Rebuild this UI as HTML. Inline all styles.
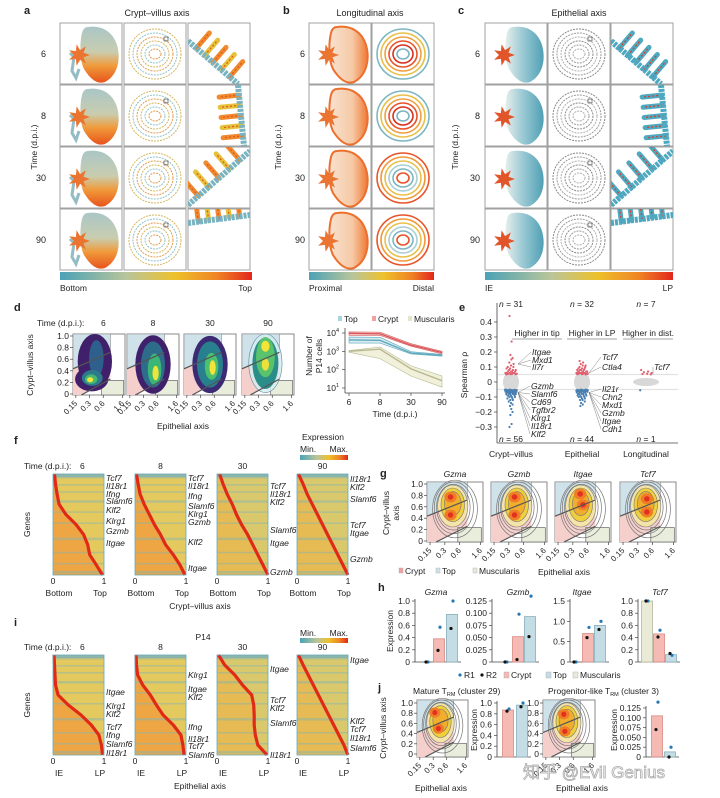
<!DOCTYPE html>
<html><head><meta charset="utf-8">
<style>
html,body{margin:0;padding:0;background:#fff;}
svg{display:block;font-family:"Liberation Sans","Noto Sans CJK SC",sans-serif;}
</style></head>
<body>
<svg id="fig" width="720" height="798" viewBox="0 0 720 798" xmlns="http://www.w3.org/2000/svg">
<defs>
<linearGradient id="cb" x1="0" x2="1" y1="0" y2="0">
<stop offset="0" stop-color="#4ba2b6"/><stop offset="0.35" stop-color="#b9c59a"/><stop offset="0.6" stop-color="#eec12a"/><stop offset="0.82" stop-color="#ef8424"/><stop offset="1" stop-color="#e2261c"/></linearGradient>
<linearGradient id="umA" x1="0" x2="0" y1="0" y2="1"><stop offset="0" stop-color="#a9c6c6"/><stop offset="0.45" stop-color="#c9cdb0"/><stop offset="0.7" stop-color="#f09a3a"/><stop offset="1" stop-color="#e8541c"/></linearGradient>
<linearGradient id="umB" x1="0" x2="1" y1="0" y2="0"><stop offset="0" stop-color="#f8e2d0"/><stop offset="0.6" stop-color="#f6c9a6"/><stop offset="1" stop-color="#ee7a36"/></linearGradient>
<linearGradient id="umC" x1="0" x2="1" y1="0" y2="0"><stop offset="0" stop-color="#e6eeec"/><stop offset="0.45" stop-color="#9ccad4"/><stop offset="1" stop-color="#4f9fb4"/></linearGradient>
</defs>
</svg>
<script>
// ---------- chart data ----------
const lineTimes=['6','8','30','90'];
const cryptMid=[9500,9000,2200,850];
const cryptLo=[7500,7500,1900,720];
const cryptHi=[11500,11000,2600,1000];
const topMid=[4200,4000,800,600];
const topLo=[2800,2800,720,540];
const topHi=[6000,5800,950,680];
const muscMid=[1000,1300,110,25];
const muscLo=[900,400,45,11];
const muscHi=[1100,1700,160,45];
const logTicks=[4,3,2,1];

const eTicks=[0.4,0.3,0.2,0.1,0,-0.1,-0.2,-0.3];
const eCats=['Crypt\u2013villus','Epithelial','Longitudinal'];
const cvUp=[0.44,0.27,0.18,0.16,0.15,0.13,0.12,0.11,0.1,0.1,0.09,0.09,0.08,0.08,0.08,0.07,0.07,0.07,0.07,0.06,0.06,0.06,0.06,0.06,0.055,0.055,0.055,0.053,0.052,0.052,0.051];
const cvDown=[-0.3,-0.28,-0.22,-0.2,-0.18,-0.16,-0.15,-0.14,-0.13,-0.12,-0.12,-0.11,-0.11,-0.1,-0.1,-0.1,-0.09,-0.09,-0.09,-0.09,-0.08,-0.08,-0.08,-0.08,-0.08,-0.08,-0.07,-0.07,-0.07,-0.07,-0.07,-0.07,-0.07,-0.065,-0.065,-0.065,-0.065,-0.06,-0.06,-0.06,-0.06,-0.06,-0.06,-0.058,-0.058,-0.056,-0.056,-0.055,-0.055,-0.054,-0.054,-0.053,-0.052,-0.052,-0.051,-0.051];
const epUp=[0.14,0.13,0.12,0.11,0.11,0.1,0.1,0.09,0.09,0.09,0.08,0.08,0.08,0.08,0.07,0.07,0.07,0.07,0.065,0.065,0.06,0.06,0.06,0.06,0.058,0.056,0.055,0.054,0.053,0.052,0.052,0.051];
const epDown=[-0.16,-0.15,-0.14,-0.13,-0.12,-0.12,-0.11,-0.11,-0.1,-0.1,-0.1,-0.09,-0.09,-0.09,-0.09,-0.08,-0.08,-0.08,-0.08,-0.08,-0.07,-0.07,-0.07,-0.07,-0.07,-0.065,-0.065,-0.065,-0.06,-0.06,-0.06,-0.06,-0.058,-0.058,-0.056,-0.056,-0.055,-0.055,-0.054,-0.053,-0.052,-0.052,-0.051,-0.051];
const lgUp=[0.08,0.07,0.065,0.06,0.055,0.053,0.051];
const lgDown=[-0.055];

const heatRows=[0,0.1,0.2,0.3,0.4,0.5,0.6,0.7,0.8,0.9,1];
const fPeak6=[0.03,0.05,0.08,0.12,0.25,0.45,0.6,0.68,0.72,0.85,0.97];
const fPeak8=[0.03,0.06,0.1,0.18,0.28,0.38,0.5,0.6,0.75,0.88,0.98];
const fPeak30=[0.05,0.12,0.2,0.3,0.38,0.48,0.6,0.7,0.8,0.9,1.0];
const fPeak90=[0.03,0.12,0.2,0.3,0.4,0.5,0.6,0.7,0.8,0.9,1.0];
const iPeak6=[0.02,0.03,0.04,0.05,0.1,0.3,0.55,0.75,0.9,0.95,0.97];
const iPeak8=[0.02,0.03,0.05,0.15,0.3,0.42,0.55,0.75,0.9,0.94,0.96];
const iPeak30=[0.03,0.15,0.35,0.5,0.68,0.72,0.73,0.73,0.75,0.8,0.98];
const iPeak90=[0.03,0.12,0.22,0.32,0.42,0.52,0.62,0.72,0.82,0.92,1.0];

const hGenes=['Gzma','Gzmb','Itgae','Tcf7'];
const hMax=[1.0,0.125,1.5,1.0];
const hTickVals=[[0,0.2,0.4,0.6,0.8,1.0],[0,0.025,0.05,0.075,0.1,0.125],[0,0.5,1.0,1.5],[0,0.2,0.4,0.6,0.8,1.0]];
const hTickLabels=[['0','0.2','0.4','0.6','0.8','1.0'],['0','0.025','0.050','0.075','0.100','0.125'],['0','0.5','1.0','1.5'],['0','0.2','0.4','0.6','0.8','1.0']];
const hBarMusc=[0,0,0,1.0];
const hBarCrypt=[0.38,0.052,0.7,0.46];
const hBarTop=[0.78,0.093,0.9,0.12];
const hR1=[[0,0.57,1.0],[0,0.098,0.135],[0,0.85,1.0],[1.0,0.52,0.11]];
const hR2=[[0,0.19,0.55],[0,0.005,0.052],[0,0.6,0.8],[1.0,0.41,0.14]];

const jMax=[1.0,0.125];
const jTickVals=[[0,0.2,0.4,0.6,0.8,1.0],[0,0.025,0.05,0.075,0.1,0.125]];
const jTickLabels=[['0','0.2','0.4','0.6','0.8','1.0'],['0','0.025','0.050','0.075','0.100','0.125']];
const jBarCrypt=[0.87,0.105];
const jBarTop=[0.96,0.013];
const jR1=[[0.89,1.0],[0.14,0.025]];
const jR2=[[0.85,0.93],[0.07,0.0]];

const cvTicks=['0','0.2','0.4','0.6','0.8','1.0'];
const cvTickVals=[0,0.2,0.4,0.6,0.8,1.0];
const epiTicks=['0.15','0.3','0.6','1.6'];
const epiTickVals=[0.15,0.3,0.6,1.6];

// ---------- helpers ----------
const NS='http://www.w3.org/2000/svg';
const svg=document.getElementById('fig');
function add(p,tag,at,name){
  const el=document.createElementNS(NS,tag);
  for(const k in at) el.setAttribute(k,at[k]);
  
  
  p.appendChild(el);return el;
}
function txt(p,x,y,s,o,name){
  o=o||{};
  const at={x:x,y:y,'font-size':o.fs||8.5,'text-anchor':o.a||'start',fill:o.fill||'#222'};
  if(o.it) at['font-style']='italic';
  if(o.b) at['font-weight']='bold';
  if(o.rot!==undefined) at.transform='rotate('+o.rot+' '+x+' '+y+')';
  const t=add(p,'text',at,name);t.textContent=s;return t;
}
function grp(name){return add(svg,'g',{},name);}
function pts(a){return a.map(p=>p[0].toFixed(1)+','+p[1].toFixed(1)).join(' ');}

// ---------- panels a,b,c ----------
const rowY=[23,85,147,209], tileH=61, tileW=62;
const rowLbl=['6','8','30','90'];
const bands=[[0,18,50,61],[50,0,56,61],[0,58,62,4],[0,14,62,6]];
function umap(g,x,y,s){
  const fill=s==='a'?'url(#umA)':s==='b'?'url(#umB)':'url(#umC)';
  add(g,'path',{d:`M${x+28} ${y+4} C${x+42} ${y+2} ${x+53} ${y+9} ${x+57} ${y+22} C${x+61} ${y+36} ${x+58} ${y+52} ${x+45} ${y+59} C${x+36} ${y+62} ${x+29} ${y+54} ${x+24} ${y+46} C${x+19} ${y+36} ${x+20} ${y+18} ${x+22} ${y+10} C${x+23} ${y+6} ${x+25} ${y+4} ${x+28} ${y+4} Z`,fill:fill,stroke:s==='b'?'#ec6f2c':'none','stroke-width':2},'umap-body');
  if(s==='a') add(g,'path',{d:`M${x+10} ${y+30} L${x+14} ${y+34} L${x+12} ${y+48} L${x+16} ${y+55} L${x+19} ${y+46}`,fill:'none',stroke:'#94bcc4','stroke-width':3},'umap-stem');
  const c=[];for(let k=0;k<14;k++){const r=k%2?5:11;const an=k/14*Math.PI*2;c.push([x+19+Math.cos(an)*r,y+32+Math.sin(an)*r]);}
  add(g,'polygon',{points:pts(c),fill:s==='c'?'#e2542a':'#ea7430'},'umap-cluster');
}
function swirl(g,x,y,s,r){
  const cols=s==='a'?['#d5b65e','#8fc1c9','#e49a4a']:s==='c'?['#8a8a8a','#9a9a9a','#b0b0b0']:
    (r<2?['#7cb6c2','#e8c04a','#f0a040','#e8522a','#d8301e']:['#e8542a','#f09a3a','#e8c04a','#a8cfd6','#7cb6c2']);
  for(let k=0;k<6;k++){
    add(g,'ellipse',{cx:x+31,cy:y+31,rx:26-k*4,ry:25-k*4,fill:'none',stroke:cols[k%cols.length],'stroke-width':s==='b'?1.6:1,'stroke-dasharray':s==='b'?'none':'2 1'},'swirl-ring');
  }
  if(s!=='b') add(g,'rect',{x:x+40,y:y+14,width:4,height:4,fill:'none',stroke:'#333','stroke-width':0.6},'zoom-box');
}
function villi(g,x,y,s,r){
  const b=bands[r];
  const x1=x+b[0],y1=y+b[1],x2=x+b[2],y2=y+b[3];
  const dx=x2-x1,dy=y2-y1,L=Math.hypot(dx,dy),nx=-dy/L,ny=dx/L;
  const sgn=(r===1)?1:-1;
  for(let k=1;k<6;k++){
    const px=x1+dx*k/6,py=y1+dy*k/6;
    const ex=px+nx*20*sgn,ey=py+ny*20*sgn;
    add(g,'line',{x1:px,y1:py,x2:ex,y2:ey,stroke:s==='a'?(k%2?'#ef8a2e':'#e6c23a'):'#4ea8c0','stroke-width':5,'stroke-linecap':'round'},'villus');
    add(g,'line',{x1:px,y1:py,x2:ex,y2:ey,stroke:s==='a'?'#e2561e':'#e23a22','stroke-width':1.2,'stroke-dasharray':'2 2'},'villus-core');
  }
  add(g,'line',{x1:x1,y1:y1,x2:x2,y2:y2,stroke:s==='a'?'#79b3c0':'#4ea8c0','stroke-width':6,'stroke-dasharray':'3 1'},'epithelium-band');
}
function tilePanel(letter,title,titleX,cols,types,labX,timeX,cbLeft,cbRight,cbL,cbR){
  const g=grp('panel-'+letter);
  txt(g,labX-10,14,letter,{fs:11,b:true},'panel-label-'+letter);
  txt(g,titleX,16,title,{fs:9,a:'middle'},'panel-title-'+letter);
  txt(g,timeX,147,'Time (d.p.i.)',{fs:8.5,a:'middle',rot:-90},'y-axis-title');
  rowY.forEach((ry,r)=>{
    txt(g,labX+12,ry+34,rowLbl[r],{fs:9,a:'end'},'row-label');
    cols.forEach((cx,ci)=>{
      const tg=add(g,'g',{},'tile');
      add(tg,'rect',{x:cx,y:ry,width:tileW,height:tileH,fill:'#fff',stroke:'#a0a0a0','stroke-width':1},'tile-frame');
      const cp=add(tg,'clipPath',{id:'cp'+letter+r+ci},'tile-clip');
      add(cp,'rect',{x:cx,y:ry,width:tileW,height:tileH},'clip-rect');
      const ig=add(tg,'g',{'clip-path':'url(#cp'+letter+r+ci+')'},'tile-image');
      if(types[ci]==='u') umap(ig,cx,ry,letter);
      else if(types[ci]==='s') swirl(ig,cx,ry,letter,r);
      else villi(ig,cx,ry,letter,r);
    });
  });
  add(g,'rect',{x:cbLeft,y:272,width:cbRight-cbLeft,height:8,fill:'url(#cb)'},'colorbar');
  txt(g,cbLeft,291,cbL,{fs:8.5},'colorbar-min-label');
  txt(g,cbRight,291,cbR,{fs:8.5,a:'end'},'colorbar-max-label');
}
tilePanel('a','Crypt\u2013villus axis',157,[60,124,188],['u','s','v'],34,37,60,252,'Bottom','Top');
tilePanel('b','Longitudinal axis',370,[309,372],['u','s'],293,281,309,434,'Proximal','Distal');
tilePanel('c','Epithelial axis',579,[485,548,611],['u','s','v'],468,458,485,673,'IE','LP');

// ---------- region box helper (d, g, j) ----------
function epiX(v,bx,w){const lo=Math.log(0.13),hi=Math.log(1.8);return bx+(Math.log(v)-lo)/(hi-lo)*w;}
function regionBox(g,bx,by,w,h){
  const P=(fx,fy)=>[bx+fx*w,by+h-fy*h];
  add(g,'rect',{x:bx,y:by,width:w,height:h,fill:'#fff',stroke:'#888','stroke-width':1},'plot-frame');
  add(g,'polygon',{points:pts([P(0,1),P(0.72,1),P(0.72,0.7),P(0,0.43)]),fill:'#cfe2ea',stroke:'#888','stroke-width':0.6},'top-region');
  add(g,'polygon',{points:pts([P(0,0.43),P(0.72,0.7),P(0.72,0.26),P(0.16,0),P(0,0)]),fill:'#f5cfcb'},'crypt-region');
  add(g,'rect',{x:bx+0.55*w,y:by+h-0.24*h,width:0.42*w,height:0.24*h,fill:'#e8eddc',stroke:'#666','stroke-width':0.7},'muscularis-region');
}
function regionLines(g,bx,by,w,h){
  const P=(fx,fy)=>[bx+fx*w,by+h-fy*h];
  add(g,'polyline',{points:pts([P(0,0.43),P(0.72,0.7)]),stroke:'#555','stroke-width':1.2,fill:'none'},'boundary-line');
  add(g,'polyline',{points:pts([P(0.16,0),P(0.72,0.26)]),stroke:'#555','stroke-width':1.2,fill:'none'},'boundary-line');
}
function blobs(g,bx,by,w,h,list,name){
  list.forEach(e=>{add(g,'ellipse',{cx:bx+e[0]*w,cy:by+h-e[1]*h,rx:e[2]*w,ry:e[3]*h,fill:e[4],stroke:e[5]||'none','stroke-width':0.6,'fill-opacity':e[6]===undefined?1:e[6]},name);});
}
function yTicks(g,x,yf,vals,labels){
  vals.forEach((v,i)=>{txt(g,x,yf(v)+3,labels[i],{fs:8.5,a:'end'},'y-tick-label');add(g,'line',{x1:x+1,x2:x+4,y1:yf(v),y2:yf(v),stroke:'#444','stroke-width':0.7},'y-tick');});
}
function xEpiTicks(g,bx,by,w){
  epiTickVals.forEach((v,i)=>{const x=epiX(v,bx,w);add(g,'line',{x1:x,x2:x,y1:by,y2:by+3,stroke:'#444','stroke-width':0.7},'x-tick');
    txt(g,x+2,by+9,epiTicks[i],{fs:8,a:'end',rot:-45},'x-tick-label');});
}

// ---------- panel d ----------
(function(){
  const g=grp('panel-d');
  txt(g,14,311,'d',{fs:11,b:true},'panel-label-d');
  txt(g,37,326,'Time (d.p.i.):',{fs:8.5},'time-label');
  const bxs=[73,127,184,242],bw=52,by=334,bh=61;
  const dBlobs=[
    [[0.42,0.55,0.33,0.45,'#40206a'],[0.36,0.26,0.32,0.2,'#40206a'],[0.45,0.6,0.14,0.3,'#2f5f8c'],[0.37,0.28,0.2,0.13,'#2c7a8c'],[0.35,0.26,0.12,0.08,'#46b874'],[0.33,0.25,0.06,0.04,'#f3e53a']],
    [[0.5,0.5,0.34,0.48,'#40206a'],[0.5,0.5,0.23,0.38,'#2e6c8c'],[0.53,0.42,0.13,0.26,'#3cb674'],[0.55,0.36,0.06,0.12,'#efe43c']],
    [[0.5,0.5,0.34,0.47,'#3d2a74'],[0.5,0.5,0.25,0.38,'#287f8e'],[0.53,0.47,0.13,0.22,'#4cc16d'],[0.55,0.45,0.06,0.12,'#f4e33b']],
    [[0.45,0.52,0.32,0.48,'#d6ecef','#5a8aa0',0.8],[0.45,0.52,0.25,0.42,'#2b8d8a'],[0.45,0.62,0.18,0.33,'#58c26c'],[0.45,0.8,0.08,0.09,'#f3e43a'],[0.45,0.5,0.07,0.1,'#eee03a']]];
  bxs.forEach((bx,k)=>{
    const pg=add(g,'g',{},'density-plot');
    regionBox(pg,bx,by,bw,bh);
    blobs(pg,bx,by,bw,bh,dBlobs[k],'density-level');
    regionLines(pg,bx,by,bw,bh);
    txt(g,k===0?101:bx+bw/2,326,lineTimes[k],{fs:8.5,a:k===0?'start':'middle'},'time-value');
    xEpiTicks(g,bx,by+bh,bw);
  });
  yTicks(g,69,v=>394-v*58,cvTickVals,cvTicks);
  txt(g,33,365,'Crypt\u2013villus axis',{fs:8.5,a:'middle',rot:-90},'y-axis-title');
  txt(g,183,429,'Epithelial axis',{fs:8.5,a:'middle'},'x-axis-title');
  // line chart
  const lg=grp('line-chart');
  const xs=i=>349+i*31;
  const ys=v=>333+(4-Math.log10(v))*(55/3);
  add(lg,'line',{x1:345,x2:345,y1:328,y2:393,stroke:'#444','stroke-width':0.8},'y-axis-line');
  add(lg,'line',{x1:345,x2:445,y1:393,y2:393,stroke:'#444','stroke-width':0.8},'x-axis-line');
  logTicks.forEach(e=>{const y=ys(Math.pow(10,e));add(lg,'line',{x1:342,x2:345,y1:y,y2:y,stroke:'#444','stroke-width':0.7},'y-tick');
    const t=txt(lg,339,y+3,'10',{fs:8.5,a:'end'},'y-tick-label');const sp=add(t,'tspan',{'font-size':5.5,dy:-4},'tick-exponent');sp.textContent=String(e);});
  lineTimes.forEach((s,i)=>{add(lg,'line',{x1:xs(i),x2:xs(i),y1:393,y2:396,stroke:'#444','stroke-width':0.7},'x-tick');txt(lg,xs(i),405,s,{fs:8.5,a:'middle'},'x-tick-label');});
  txt(lg,395,417,'Time (d.p.i.)',{fs:8.5,a:'middle'},'x-axis-title');
  txt(lg,312,356,'Number of',{fs:8.5,a:'middle',rot:-90},'y-axis-title');
  txt(lg,322,356,'P14 cells',{fs:8.5,a:'middle',rot:-90},'y-axis-title');
  function series(lo,hi,mid,fill,stroke,name){
    const up=lo.map((v,i)=>[xs(i),ys(hi[i])]),dn=lo.map((v,i)=>[xs(i),ys(v)]).reverse();
    add(lg,'polygon',{points:pts(up.concat(dn)),fill:fill,'fill-opacity':0.45,stroke:stroke,'stroke-width':0.6},name+'-band');
    add(lg,'polyline',{points:pts(mid.map((v,i)=>[xs(i),ys(v)])),fill:'none',stroke:stroke,'stroke-width':1.4},name+'-line');
  }
  series(muscLo,muscHi,muscMid,'#dfe0b0','#b8b890','muscularis');
  series(topLo,topHi,topMid,'#a8d4de','#5fa9bd','top');
  series(cryptLo,cryptHi,cryptMid,'#f2a8a4','#d8575a','crypt');
  [['Top','#a8d4de',338],['Crypt','#f2a0a0',372],['Muscularis','#e4e4c8',408]].forEach(l=>{
    add(lg,'rect',{x:l[2],y:316,width:4,height:5,fill:l[1]},'legend-swatch');
    txt(lg,l[2]+6,322,l[0],{fs:8.5},'legend-entry');});
})();

// ---------- panel e ----------
(function(){
  const g=grp('panel-e');
  txt(g,459,311,'e',{fs:11,b:true},'panel-label-e');
  const ys=v=>382-v*150;
  const cx=[511,582,646];
  add(g,'line',{x1:497,x2:678,y1:ys(0.05),y2:ys(0.05),stroke:'#e2e2e2','stroke-width':1.2},'threshold-line');
  add(g,'line',{x1:497,x2:678,y1:ys(-0.05),y2:ys(-0.05),stroke:'#e2e2e2','stroke-width':1.2},'threshold-line');
  add(g,'line',{x1:497,x2:497,y1:303,y2:443,stroke:'#444','stroke-width':0.8},'y-axis-line');
  add(g,'line',{x1:497,x2:678,y1:443,y2:443,stroke:'#444','stroke-width':0.8},'x-axis-line');
  eTicks.forEach(v=>{add(g,'line',{x1:494,x2:497,y1:ys(v),y2:ys(v),stroke:'#444','stroke-width':0.7},'y-tick');
    txt(g,492,ys(v)+3,v===0?'0':(v<0?'\u2212'+Math.abs(v).toFixed(1):v.toFixed(1)),{fs:8.5,a:'end'},'y-tick-label');});
  txt(g,467,375,'Spearman \u03c1',{fs:8.5,a:'middle',rot:-90},'y-axis-title');
  eCats.forEach((s,i)=>txt(g,cx[i],457,s,{fs:8.5,a:'middle'},'x-category-label'));
  [[cx[0],8,0.06],[cx[1],8,0.06],[cx[2],13,0.02]].forEach(s=>{
    add(g,'ellipse',{cx:s[0],cy:ys(0),rx:s[1],ry:s[2]*150+1,fill:'#d8d8d8'},'nonsignificant-swarm');});
  function dots(arr,x,col,name){arr.forEach((v,i)=>{const spread=Math.max(1.5,8-Math.abs(v)*40);const off=(((i*7)%11)-5)/5*spread;
    add(g,'circle',{cx:x+off,cy:ys(v),r:1.1,fill:col},name);});}
  dots(cvUp,cx[0],'#e06070','upregulated-gene');dots(cvDown,cx[0],'#4a7fb0','downregulated-gene');
  dots(epUp,cx[1],'#e06070','upregulated-gene');dots(epDown,cx[1],'#4a7fb0','downregulated-gene');
  dots(lgUp,cx[2],'#e06070','upregulated-gene');dots(lgDown,cx[2],'#4a7fb0','downregulated-gene');
  [['n = 31',cx[0],307],['n = 32',cx[1],307],['n = 7',cx[2],307],['n = 56',cx[0],442],['n = 44',cx[1],442],['n = 1',cx[2],442]].forEach(n=>{
    const t=txt(g,n[1],n[2],'',{fs:8.5,a:'middle'},'n-label');const a=add(t,'tspan',{'font-style':'italic'},'n-symbol');a.textContent='n';const b=add(t,'tspan',{},'n-value');b.textContent=n[0].slice(1);});
  [['Higher in tip',537],['Higher in LP',592],['Higher in dist.',648]].forEach(h=>{
    txt(g,h[1],336,h[0],{fs:8.5,a:'middle'},'direction-label');
    add(g,'line',{x1:h[1]-25,x2:h[1]+25,y1:339,y2:339,stroke:'#888','stroke-width':0.8},'direction-underline');});
  function glab(list,x,sx,sy){list.forEach(l=>{txt(g,x,l[1]+3,l[0],{fs:8.5,it:true},'gene-label');
    add(g,'line',{x1:sx,y1:sy,x2:x-1,y2:l[1],stroke:'#666','stroke-width':0.4},'gene-leader-line');});}
  glab([['Itgae',352],['Mxd1',360],['Il7r',367]],532,cx[0]+7,ys(0.12));
  glab([['Gzmb',386],['Slamf6',394],['Cd69',402],['Tgfbr2',410],['Klrg1',418],['Il18r1',426],['Klf2',434]],531,cx[0]+7,ys(-0.07));
  glab([['Tcf7',357],['Ctla4',367]],602,cx[1]+7,ys(0.06));
  glab([['Il21r',389],['Chn2',397],['Mxd1',405],['Gzmb',413],['Itgae',421],['Cdh1',429]],602,cx[1]+7,ys(-0.07));
  glab([['Tcf7',367]],654,cx[2]+7,ys(0.05));
})();

// ---------- heatmaps f, i ----------
const hmX=[53,135,217,297],hmW=51;
function heatmap(g,x,y,h,peaks,early,name){
  add(g,'rect',{x:x,y:y,width:hmW,height:h,fill:early?'#e4c95e':'#d9c86c'},name+'-base');
  const left=[[x,y]].concat(heatRows.map((r,i)=>[x+peaks[i]*hmW,y+r*h])).concat([[x,y+h]]);
  add(g,'polygon',{points:pts(left),fill:early?'#f0a040':'#ebb548','fill-opacity':early?0.85:0.7},name+'-low-region');
  [0.02,0.1,0.17,0.26,0.37,0.48,0.63,0.77,0.88,0.96].forEach((f,k)=>{
    add(g,'rect',{x:x,y:y+f*h,width:hmW,height:k%3?1.5:2.5,fill:'#7fb4b8','fill-opacity':0.45},'heatmap-row-stripe');});
  add(g,'rect',{x:x,y:y,width:hmW,height:3,fill:'#79b1bc','fill-opacity':0.8},'heatmap-top-row');
  add(g,'polyline',{points:pts(heatRows.map((r,i)=>[x+peaks[i]*hmW,y+r*h])),fill:'none',stroke:'#e02a18','stroke-width':3.2,'stroke-linejoin':'round'},name+'-peak-line');
  add(g,'rect',{x:x,y:y,width:hmW,height:h,fill:'none',stroke:'#6aa9b8','stroke-width':0.8},name+'-frame');
}
function heatPanel(letter,y0,h,peaksList,labels,leftLbl,rightLbl,axisTitle,timeY,labelY,early){
  const g=grp('panel-'+letter);
  txt(g,14,labelY,letter,{fs:11,b:true},'panel-label-'+letter);
  txt(g,24,timeY,'Time (d.p.i.):',{fs:8.5},'time-label');
  txt(g,30,y0+h/2,'Genes',{fs:8.5,a:'middle',rot:-90},'y-axis-title');
  hmX.forEach((x,k)=>{
    txt(g,k===0?80:x+hmW/2,timeY,lineTimes[k],{fs:8.5,a:k===0?'start':'middle'},'time-value');
    heatmap(g,x,y0,h,peaksList[k],early[k],'heatmap');
    labels[k].forEach(l=>txt(g,x+hmW+2,l[1]+3,l[0],{fs:8.5,it:true},'gene-label'));
    txt(g,x,y0+h+9,'0',{fs:8.5,a:'middle'},'x-tick-label');
    txt(g,x+hmW,y0+h+9,'1',{fs:8.5,a:'middle'},'x-tick-label');
    txt(g,x+6,y0+h+21,leftLbl,{fs:8.5,a:'middle'},'x-end-label');
    txt(g,x+hmW-4,y0+h+21,rightLbl,{fs:8.5,a:'middle'},'x-end-label');
  });
  txt(g,200,y0+h+34,axisTitle,{fs:8.5,a:'middle'},'x-axis-title');
}
heatPanel('f',474,101,[fPeak6,fPeak8,fPeak30,fPeak90],[
  [['Tcf7',478],['Il18r1',486],['Ifng',494],['Slamf6',501],['Klf2',510],['Klrg1',521],['Gzmb',531],['Itgae',543]],
  [['Tcf7',478],['Il18r1',486],['Ifng',496],['Slamf6',506],['Klrg1',514],['Gzmb',522],['Klf2',542],['Itgae',568]],
  [['Tcf7',486],['Il18r1',494],['Klf2',502],['Slamf6',530],['Itgae',543],['Gzmb',572]],
  [['Il18r1',479],['Klf2',487],['Slamf6',499],['Tcf7',525],['Itgae',533],['Gzmb',559]]],'Bottom','Top','Crypt\u2013villus axis',469,444,[true,true,false,false]);
heatPanel('i',655,100,[iPeak6,iPeak8,iPeak30,iPeak90],[
  [['Itgae',692],['Klrg1',706],['Klf2',714],['Tcf7',727],['Ifng',735],['Slamf6',744],['Il18r1',753]],
  [['Klrg1',675],['Itgae',689],['Klf2',697],['Ifng',727],['Il18r1',739],['Tcf7',746],['Slamf6',755]],
  [['Itgae',669],['Tcf7',700],['Klf2',708],['Slamf6',723],['Il18r1',755]],
  [['Itgae',660],['Klf2',721],['Tcf7',729],['Il18r1',738],['Slamf6',748]]],'IE','LP','Epithelial axis',650,626,[true,true,false,false]);
(function(){
  const g=grp('expression-legends');
  txt(g,323,440,'Expression',{fs:8.5,a:'middle'},'colorbar-title');
  txt(g,300,452,'Min.',{fs:8.5},'colorbar-min-label');txt(g,348,452,'Max.',{fs:8.5,a:'end'},'colorbar-max-label');
  add(g,'rect',{x:300,y:455,width:48,height:5,fill:'url(#cb)'},'colorbar');
  txt(g,203,640,'P14',{fs:8.5,a:'middle'},'heatmap-subtitle');
  txt(g,300,636,'Min.',{fs:8.5},'colorbar-min-label');txt(g,348,636,'Max.',{fs:8.5,a:'end'},'colorbar-max-label');
  add(g,'rect',{x:300,y:638,width:48,height:5,fill:'url(#cb)'},'colorbar');
})();

// ---------- contour helper ----------
function contour(g,bx,by,w,h,cores){
  regionBox(g,bx,by,w,h);
  [[0.5,0.55,0.4,0.48],[0.48,0.57,0.35,0.43],[0.47,0.58,0.3,0.38]].forEach(r=>
    add(g,'ellipse',{cx:bx+r[0]*w,cy:by+h-r[1]*h,rx:r[2]*w,ry:r[3]*h,fill:'none',stroke:'#777','stroke-width':0.7},'density-contour'));
  blobs(g,bx,by,w,h,[[0.46,0.6,0.27,0.35,'#f4e4a8','#777'],[0.46,0.62,0.21,0.28,'#efcf3e','#777'],[0.46,0.64,0.15,0.2,'#f0ad2e','#777']],'density-level');
  cores.forEach(c=>blobs(g,bx,by,w,h,[[c[0],c[1],0.11,0.09,'#ef7d28'],[c[0],c[1],0.05,0.045,'#e2321f']],'density-peak'));
  regionLines(g,bx,by,w,h);
}

// ---------- panel g ----------
(function(){
  const g=grp('panel-g');
  txt(g,380,477,'g',{fs:11,b:true},'panel-label-g');
  const gx=[427,491,555,620],gw=56,gy=482,gh=60;
  const cores=[[[0.42,0.75],[0.42,0.45]],[[0.42,0.75],[0.42,0.45]],[[0.45,0.8],[0.5,0.62]],[[0.48,0.72],[0.48,0.5]]];
  gx.forEach((x,k)=>{txt(g,x+gw/2,477,hGenes[k],{fs:8.5,a:'middle',it:true},'gene-title');
    const pg=add(g,'g',{},'contour-plot');contour(pg,x,gy,gw,gh,cores[k]);xEpiTicks(g,x,gy+gh,gw);});
  yTicks(g,423,v=>541-57*v,cvTickVals,cvTicks);
  txt(g,389,513,'Crypt\u2013villus',{fs:8.5,a:'middle',rot:-90},'y-axis-title');
  txt(g,399,513,'axis',{fs:8.5,a:'middle',rot:-90},'y-axis-title');
  [['Crypt','#f0a0a0',405],['Top','#cfe2ea',442],['Muscularis','#e6e8d8',479]].forEach(l=>{
    add(g,'rect',{x:l[2]-6,y:568,width:4,height:5,fill:l[1],stroke:'#aaa','stroke-width':0.4},'legend-swatch');
    txt(g,l[2],574,l[0],{fs:8.5},'legend-entry');});
  txt(g,564,575,'Epithelial axis',{fs:8.5,a:'middle'},'x-axis-title');
})();

// ---------- bar helper ----------
function barPlot(g,axX,yBase,yTop,max,vals,labels,centers,bars,r1,r2,cols){
  const ys=v=>yBase-v/max*(yBase-yTop);
  add(g,'line',{x1:axX,x2:axX,y1:ys(vals[vals.length-1])-2,y2:yBase,stroke:'#444','stroke-width':0.8},'y-axis-line');
  add(g,'line',{x1:axX,x2:centers[centers.length-1]+9,y1:yBase,y2:yBase,stroke:'#444','stroke-width':0.8},'x-axis-line');
  vals.forEach((v,i)=>{add(g,'line',{x1:axX-3,x2:axX,y1:ys(v),y2:ys(v),stroke:'#444','stroke-width':0.7},'y-tick');txt(g,axX-5,ys(v)+3,labels[i],{fs:8.5,a:'end'},'y-tick-label');});
  bars.forEach((v,i)=>{if(v>0) add(g,'rect',{x:centers[i]-5.5,y:ys(v),width:11,height:yBase-ys(v),fill:cols[i][0],stroke:cols[i][1],'stroke-width':0.8},'bar');});
  r1.forEach((v,i)=>add(g,'circle',{cx:centers[i]+1,cy:ys(v),r:1.6,fill:'#2679b4'},'replicate-r1-point'));
  r2.forEach((v,i)=>add(g,'circle',{cx:centers[i]-1,cy:ys(v),r:1.6,fill:'#111'},'replicate-r2-point'));
}
const cMusc=['#e9ebd6','#b7b89c'],cCrypt=['#f4bab3','#d98a84'],cTop=['#c4dde4','#86aebb'];

// ---------- panel h ----------
(function(){
  const g=grp('panel-h');
  txt(g,378,591,'h',{fs:11,b:true},'panel-label-h');
  const axX=[415,492,570,638];
  const cent=[[427,439,452],[506,518,530],[575,588,600],[647,659,671]];
  const tx=[436,518,582,660];
  hGenes.forEach((gname,k)=>{
    txt(g,tx[k],595,gname,{fs:8.5,a:'middle',it:true},'gene-title');
    const pg=add(g,'g',{},'bar-plot-'+gname.toLowerCase());
    barPlot(pg,axX[k],662,601,hMax[k],hTickVals[k],hTickLabels[k],cent[k],[hBarMusc[k],hBarCrypt[k],hBarTop[k]],hR1[k],hR2[k],[cMusc,cCrypt,cTop]);
  });
  txt(g,393,631,'Expression',{fs:8.5,a:'middle',rot:-90},'y-axis-title');
  add(g,'circle',{cx:460,cy:675,r:1.6,fill:'#2679b4'},'legend-r1-marker');txt(g,464,678,'R1',{fs:8.5},'legend-entry');
  add(g,'circle',{cx:482,cy:675,r:1.6,fill:'#111'},'legend-r2-marker');txt(g,486,678,'R2',{fs:8.5},'legend-entry');
  [['Crypt','#f4bab3',504],['Top','#c4dde4',546],['Muscularis','#e9ebd6',573]].forEach(l=>{
    add(g,'rect',{x:l[2],y:672,width:5,height:6,fill:l[1],stroke:'#aaa','stroke-width':0.4},'legend-swatch');
    txt(g,l[2]+7,678,l[0],{fs:8.5},'legend-entry');});
})();

// ---------- panel j ----------
(function(){
  const g=grp('panel-j');
  txt(g,378,691,'j',{fs:11,b:true},'panel-label-j');
  const t1=txt(g,413,694,'Mature T',{fs:8.5},'cluster-title');const s1=add(t1,'tspan',{'font-size':5.5,dy:2},'subscript');s1.textContent='RM';const r1=add(t1,'tspan',{dy:-2},'title-rest');r1.textContent=' (cluster 29)';
  const t2=txt(g,548,694,'Progenitor-like T',{fs:8.5},'cluster-title');const s2=add(t2,'tspan',{'font-size':5.5,dy:2},'subscript');s2.textContent='RM';const r2=add(t2,'tspan',{dy:-2},'title-rest');r2.textContent=' (cluster 3)';
  const c1=add(g,'g',{},'contour-plot');contour(c1,417,700,51,57,[[0.35,0.78],[0.42,0.5]]);xEpiTicks(g,417,757,51);
  const c2=add(g,'g',{},'contour-plot');contour(c2,543,700,52,57,[[0.4,0.75],[0.42,0.45]]);xEpiTicks(g,543,757,52);
  yTicks(g,413,v=>754-51*v,cvTickVals,cvTicks);
  yTicks(g,539,v=>754-51*v,cvTickVals,cvTicks);
  txt(g,386,728,'Crypt\u2013villus axis',{fs:8.5,a:'middle',rot:-90},'y-axis-title');
  const b1=add(g,'g',{},'bar-plot-mature');
  barPlot(b1,497,757,703,jMax[0],jTickVals[0],jTickLabels[0],[508,522],[jBarCrypt[0],jBarTop[0]],jR1[0],jR2[0],[cCrypt,cTop]);
  const b2=add(g,'g',{},'bar-plot-progenitor');
  barPlot(b2,646,757,708,jMax[1],jTickVals[1],jTickLabels[1],[657,670],[jBarCrypt[1],jBarTop[1]],jR1[1],jR2[1],[cCrypt,cTop]);
  txt(g,477,730,'Expression',{fs:8.5,a:'middle',rot:-90},'y-axis-title');
  txt(g,617,730,'Expression',{fs:8.5,a:'middle',rot:-90},'y-axis-title');
  txt(g,441,791,'Epithelial axis',{fs:8.5,a:'middle'},'x-axis-title');
  txt(g,582,791,'Epithelial axis',{fs:8.5,a:'middle'},'x-axis-title');
  const wm=txt(g,523,778,'知乎 @Evil Genius',{fs:17,fill:'#ffffff'},'watermark');
  wm.setAttribute('stroke','#9a9a9a');
  wm.setAttribute('stroke-width','0.8');
  wm.setAttribute('opacity','0.85');
})();
</script>
</body></html>
